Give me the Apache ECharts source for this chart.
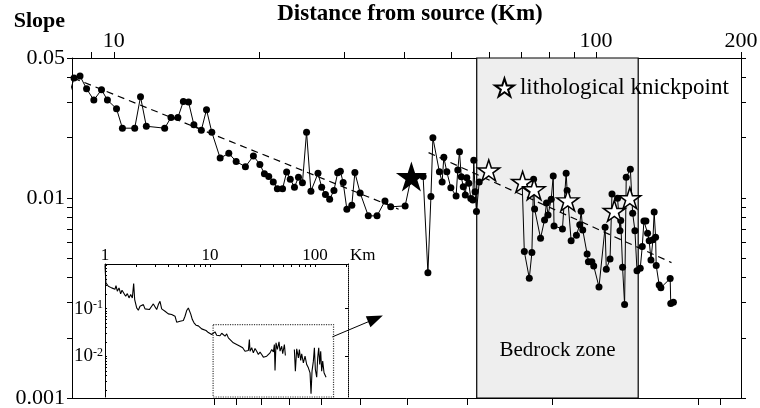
<!DOCTYPE html>
<html>
<head>
<meta charset="utf-8">
<script src="https://cdn.jsdelivr.net/npm/echarts@6/dist/echarts.min.js"></script>
<style>
  html, body { margin: 0; padding: 0; background: #fff; }
  #chart { width: 760px; height: 408px; }
</style>
</head>
<body>
<div id="chart"></div>
<script>
// main profile: distance from source (km) and channel slope
var mainDist = [8.03, 8.27, 8.51, 8.78, 9.09, 9.43, 9.70, 10.13, 10.42, 11.05, 11.36, 11.68, 12.75, 13.14, 13.58,
  13.94, 14.29, 14.66, 15.19, 15.57, 15.97, 16.62, 17.32, 17.94, 18.75, 19.48, 20.09, 20.53, 20.96, 21.42, 21.84,
  22.39, 22.83, 23.23, 23.70, 24.16, 24.62, 25.11, 25.64, 26.52, 26.99, 27.48, 28.04, 28.62, 29.13, 29.51, 29.91,
  30.44, 31.17, 31.63, 32.43, 33.72, 35.16, 36.52, 37.53, 40.21, 41.43, 43.82, 44.83, 45.48, 45.91, 47.36, 47.98,
  48.37, 49.07, 50.02, 51.29, 51.71, 52.13, 52.58, 53.08, 53.6, 53.98, 54.5, 55.02, 55.55, 55.81, 56.16, 56.53,
  57.28, 63, 70.31, 71.05, 72.76, 73.67, 74.26, 74.62, 76.78, 78.26, 79.0, 79.57, 80.79, 81.57, 81.88, 85.24,
  86.76, 87.17, 88.85, 91.13, 92.58, 93.2, 93.91, 95.9, 96.5, 98.1, 98.97, 101.5, 104.5, 105.1, 107.0, 108.0,
  110.9, 112.2, 112.6, 113.6, 114.7, 115.6, 117.9, 119.2, 120.5, 121.7, 123.6, 124.8, 125.8, 127.0, 128.0, 129.0,
  130.1, 131.3, 132.1, 133.0, 133.4, 135.3, 136.4, 142.6, 143.0, 144.8];
var mainSlope = [0.0309, 0.0397, 0.0406, 0.0351, 0.0308, 0.0347, 0.0308, 0.0279, 0.0223, 0.0223, 0.0320, 0.0228,
  0.0223, 0.0252, 0.0252, 0.0303, 0.0301, 0.0232, 0.0218, 0.0276, 0.0213, 0.0158, 0.0167, 0.0152, 0.0143, 0.0162,
  0.0147, 0.0132, 0.0128, 0.0120, 0.0111, 0.0111, 0.01346, 0.0124, 0.01131, 0.01269, 0.01189, 0.0213, 0.0108,
  0.01326, 0.01131, 0.01041, 0.00985, 0.0109, 0.01334, 0.0136, 0.01192, 0.00878, 0.00919, 0.01338, 0.01059,
  0.00813, 0.00813, 0.00966, 0.00902, 0.00912, 0.0128, 0.01278, 0.00423, 0.01015, 0.01995, 0.01349, 0.01202,
  0.01594, 0.01349, 0.01122, 0.01023, 0.0138, 0.01698, 0.01274, 0.01135, 0.01035, 0.01259, 0.01182, 0.00994,
  0.00977, 0.0154, 0.01072, 0.00854, 0.01202, null, 0.01202, 0.00539, 0.00397, 0.00533, 0.0124, 0.00881, 0.00629,
  0.00776, 0.00944, 0.00822, 0.00985, 0.01288, 0.00724, 0.007, 0.01329, 0.01088, 0.00611, 0.00651, 0.00735,
  0.00858, 0.00692, 0.00525, 0.0048, 0.0048, 0.00457, 0.00359, 0.00714, 0.0044, 0.00495, 0.01047, 0.00997,
  0.00686, 0.0077, 0.0045, 0.00293, 0.01269, 0.01391, 0.00839, 0.00686, 0.00433, 0.00445, 0.00571, 0.00767,
  0.00767, 0.00666, 0.00611, 0.0049, 0.00617, 0.00851, 0.00636, 0.00459, 0.00367, 0.00356, 0.00395, 0.00297,
  0.00301];

// knickpoints
var knickDist = [59.95, 70.47, 74.44, 87.44, 109.2, 117.6];
var knickSlope = [0.01372, 0.01202, 0.01105, 0.00972, 0.00861, 0.00997];
var bigStarDist = [41.43];
var bigStarSlope = [0.0128];

// dashed trends
var trend1Dist = [8.24, 38.98];
var trend1Slope = [0.0397, 0.00878];
var trend2Dist = [44.97, 143.5];
var trend2Slope = [0.01684, 0.00475];

var bedrockZone = [56.6, 122.4];
var arrowDist = [28.4, 34.9];
var arrowSlope = [0.00202, 0.00249];

// inset: whole profile
var insetDist = [1.0, 1.02, 1.076, 1.116, 1.157, 1.20, 1.245, 1.273, 1.31, 1.36, 1.41, 1.452, 1.517, 1.573, 1.632,
  1.693, 1.756, 1.821, 1.875, 1.917, 2.003, 2.077, 2.154, 2.234, 2.318, 2.404, 2.494, 2.644, 2.783, 2.886, 2.994,
  3.105, 3.22, 3.34, 3.465, 3.594, 3.728, 3.867, 4.01, 4.16, 4.315, 4.475, 4.642, 4.814, 5.18, 5.572, 5.779, 5.995,
  6.218, 6.356, 6.545, 6.788, 7.04, 7.356, 7.743, 8.03, 8.327, 8.639, 9.16, 9.64, 10.0, 10.37, 10.76, 11.16, 11.57,
  12.0, 12.45, 12.92, 13.4, 13.9, 14.41, 14.95, 15.5, 16.68, 17.95, 19.31, 20.47, 21.54, 22.35, 23.18, 23.7, 24.04,
  24.94, 25.86, 26.83, 27.83, 28.86, 29.94, 31.05, 32.2, 34.64, 37.28, 38.67, 40.11, 41.0, 41.59, 42.52, 43.78,
  45.4, 46.42, 48.14, 49.22, 51.05, 52.18, 58, 63.56, 64.97, 66.9, 69.4, 70.93, 73.03, 74.65, 77.43, 80.31, 83.3,
  86.4, 89.6, 91.6, 93.6, 96.4, 98.6, 100.7, 103.7, 106.0, 108.4, 110.8, 113.2, 115.7, 118.3, 121.8, 125.4, 127.3];
var insetSlope = [0.8, 0.343, 0.292, 0.306, 0.270, 0.287, 0.253, 0.301, 0.230, 0.270, 0.202, 0.241, 0.222, 0.181,
  0.205, 0.167, 0.196, 0.167, 0.332, 0.154, 0.103, 0.0923, 0.112, 0.1066, 0.121, 0.0984, 0.0908, 0.0953, 0.112,
  0.125, 0.131, 0.0953, 0.121, 0.142, 0.0984, 0.1066, 0.088, 0.0953, 0.0774, 0.0812, 0.075, 0.0726, 0.0692,
  0.0519, 0.0545, 0.0562, 0.0692, 0.0908, 0.103, 0.1, 0.0774, 0.059, 0.0503, 0.045, 0.0435, 0.0408, 0.0377,
  0.0348, 0.0348, 0.0316, 0.0297, 0.0287, 0.0261, 0.0327, 0.0278, 0.0301, 0.027, 0.0306, 0.0327, 0.0265, 0.0297,
  0.0245, 0.0233, 0.0193, 0.0178, 0.0164, 0.0152, 0.0129, 0.014, 0.0133, 0.0226, 0.0129, 0.0152, 0.0119, 0.0147,
  0.0129, 0.011, 0.0123, 0.011, 0.00969, 0.01016, 0.0119, 0.014, 0.0125, 0.0178, 0.0051, 0.0193, 0.014, 0.0202,
  0.0129, 0.0164, 0.0114, 0.0178, 0.0105, null, 0.014, 0.00494, 0.0145, 0.00938, 0.014, 0.00826, 0.0114, 0.00738,
  0.01016, 0.00681, 0.00581, 0.00457, 0.00167, 0.00494, 0.008, 0.0152, 0.00536, 0.00371, 0.00938, 0.0152,
  0.00681, 0.0129, 0.00494, 0.008, 0.00457, 0.00494, 0.00371];
var insetBox = [10.7, 150, 0.0464];

// axis ticks and labels
var topTicks = [9, 10, 20, 30, 40, 50, 60, 70, 80, 90, 100, 200];
var topLabels = [10, 100, 200];
var bottomTicks = [0.9, 1, 2, 3, 4, 5, 6, 7, 8, 9, 10];
var slopeTicks = [0.001, 0.002, 0.003, 0.004, 0.005, 0.006, 0.007, 0.008, 0.009, 0.01, 0.02, 0.03, 0.04, 0.05];
var slopeLabels = [0.001, 0.01, 0.05];
var insetXTicks = [1, 2, 3, 4, 5, 6, 7, 8, 9, 10, 20, 30, 40, 50, 60, 70, 80, 90, 100, 200];
var insetXLabels = [1, 10, 100];
var insetYTicks = [0.002, 0.003, 0.004, 0.005, 0.006, 0.007, 0.008, 0.009, 0.01, 0.02, 0.03, 0.04, 0.05, 0.06,
  0.07, 0.08, 0.09, 0.1, 0.2, 0.3, 0.4, 0.5, 0.6, 0.7, 0.8];
var insetYLabels = [0.01, 0.1];

function pairs(xs, ys) {
  return xs.map(function (x, i) {
    return [x, ys[i] == null ? '-' : ys[i]];
  });
}

var serif = "'Liberation Serif', 'Times New Roman', serif";
var starPath = 'path://M50 0 L61.23 34.55 L97.55 34.55 L68.17 55.9 L79.39 90.45 L50 69.1 L20.61 90.45 L31.83 55.9 L2.45 34.55 L38.77 34.55 Z';
var black = { color: '#000', width: 1 };

var myChart = echarts.init(document.getElementById('chart'));

myChart.setOption({
  animation: false,
  textStyle: { fontFamily: serif, color: '#000' },
  legend: {
    data: ['lithological knickpoint'],
    left: 489,
    top: 71,
    icon: starPath,
    itemWidth: 19,
    itemHeight: 18,
    selectedMode: false,
    textStyle: { fontFamily: serif, fontSize: 23, color: '#000', padding: [0, 0, 0, 1] }
  },
  grid: [
    { left: 72, top: 58, right: 19, bottom: 10, outerBoundsMode: 'none' },
    { left: 105, top: 264, width: 243, height: 133, show: true, backgroundColor: '#fff', borderWidth: 0, outerBoundsMode: 'none' }
  ],
  xAxis: [
    {
      type: 'log', gridIndex: 0, position: 'top', min: 8.19, max: 200,
      name: 'Distance from source (Km)', nameLocation: 'middle', nameGap: 32,
      nameTextStyle: { fontFamily: serif, fontSize: 23, fontWeight: 'bold', color: '#000', padding: [0, 0, 0, 7] },
      axisLine: { onZero: false, lineStyle: black },
      axisTick: { length: 6, customValues: topTicks, lineStyle: black },
      axisLabel: { customValues: topLabels, margin: 6, fontSize: 22, fontFamily: serif, color: '#000',
        formatter: function (v) { return String(v); } },
      splitLine: { show: false }
    },
    {
      type: 'log', gridIndex: 0, position: 'bottom', inverse: true, min: 0.815, max: 19.7,
      axisLine: { onZero: false, lineStyle: black },
      axisTick: { length: 7, customValues: bottomTicks, lineStyle: black },
      axisLabel: { show: false },
      splitLine: { show: false }
    },
    {
      type: 'log', gridIndex: 1, position: 'top', min: 1, max: 206,
      name: 'Km', nameLocation: 'end', nameGap: 2,
      nameTextStyle: { fontFamily: serif, fontSize: 17, color: '#000', verticalAlign: 'bottom', align: 'left' },
      axisLine: { onZero: false, lineStyle: black },
      axisTick: { inside: true, length: 3, customValues: insetXTicks, lineStyle: black },
      axisLabel: { customValues: insetXLabels, margin: 0, fontSize: 17, fontFamily: serif, color: '#000',
        formatter: function (v) { return String(v); } },
      splitLine: { show: false }
    }
  ],
  yAxis: [
    {
      type: 'log', gridIndex: 0, position: 'left', min: 0.001, max: 0.05,
      name: 'Slope', nameLocation: 'end', nameGap: 26,
      nameTextStyle: { fontFamily: serif, fontSize: 22, fontWeight: 'bold', color: '#000', align: 'right', padding: [0, 7, 0, 0] },
      axisLine: { onZero: false, lineStyle: black },
      axisTick: { length: 5, customValues: slopeTicks, lineStyle: black },
      axisLabel: { customValues: slopeLabels, margin: 7, fontSize: 22, fontFamily: serif, color: '#000',
        formatter: function (v) { return String(v); } },
      splitLine: { show: false }
    },
    {
      type: 'log', gridIndex: 0, position: 'right', min: 0.001, max: 0.05,
      axisLine: { onZero: false, lineStyle: black },
      axisTick: { length: 5, customValues: slopeTicks, lineStyle: black },
      axisLabel: { show: false },
      splitLine: { show: false }
    },
    {
      type: 'log', gridIndex: 1, position: 'left', min: 0.00143, max: 0.85,
      axisLine: { onZero: false, lineStyle: black },
      axisTick: { inside: true, length: 2, customValues: insetYTicks, lineStyle: black },
      axisLabel: {
        customValues: insetYLabels, margin: 2, color: '#000',
        formatter: function (v) {
          return '{b|10}{s|' + Math.round(Math.log10(v)) + '}';
        },
        rich: {
          b: { fontFamily: serif, fontSize: 19, color: '#000' },
          s: { fontFamily: serif, fontSize: 12, color: '#000', verticalAlign: 'top' }
        }
      },
      splitLine: { show: false }
    },
    {
      type: 'log', gridIndex: 1, position: 'right', min: 0.00143, max: 0.85,
      axisLine: { onZero: false, lineStyle: { color: '#000', width: 1, type: 'dotted' } },
      axisTick: { inside: true, length: 3, customValues: insetYLabels, lineStyle: black },
      axisLabel: { show: false },
      splitLine: { show: false }
    }
  ],
  series: [
    {
      name: 'bedrock',
      type: 'line',
      xAxisIndex: 0, yAxisIndex: 0,
      data: [],
      z: 1,
      silent: true,
      markArea: {
        silent: true,
        itemStyle: { color: '#eeeeee', borderColor: '#000', borderWidth: 1.2 },
        label: { show: true, position: 'insideBottom', distance: 38, fontFamily: serif, fontSize: 21, color: '#000' },
        data: [[{ name: 'Bedrock zone', xAxis: bedrockZone[0] }, { xAxis: bedrockZone[1] }]]
      }
    },
    {
      name: 'slope',
      type: 'line',
      xAxisIndex: 0, yAxisIndex: 0,
      data: pairs(mainDist, mainSlope),
      symbol: 'circle',
      symbolSize: 7,
      itemStyle: { color: '#000' },
      lineStyle: { color: '#000', width: 1 },
      z: 3,
      markLine: {
        silent: true,
        symbol: ['none', 'triangle'],
        symbolSize: [12, 16],
        label: { show: false },
        lineStyle: { color: '#000', width: 1, type: 'solid' },
        data: [[{ coord: [arrowDist[0], arrowSlope[0]] }, { coord: [arrowDist[1], arrowSlope[1]] }]]
      }
    },
    {
      name: 'trend upstream',
      type: 'line',
      xAxisIndex: 0, yAxisIndex: 0,
      data: pairs(trend1Dist, trend1Slope),
      showSymbol: false, symbol: 'none',
      lineStyle: { color: '#000', width: 1.2, type: [7, 5] },
      z: 4
    },
    {
      name: 'trend downstream',
      type: 'line',
      xAxisIndex: 0, yAxisIndex: 0,
      data: pairs(trend2Dist, trend2Slope),
      showSymbol: false, symbol: 'none',
      lineStyle: { color: '#000', width: 1.2, type: [7, 5] },
      z: 4
    },
    {
      name: 'lithological knickpoint',
      type: 'scatter',
      xAxisIndex: 0, yAxisIndex: 0,
      data: pairs(knickDist, knickSlope),
      symbol: starPath,
      symbolSize: [22, 21],
      itemStyle: { color: '#fff', borderColor: '#000', borderWidth: 1.5, opacity: 1 },
      z: 5
    },
    {
      name: 'main knickpoint',
      type: 'scatter',
      xAxisIndex: 0, yAxisIndex: 0,
      data: pairs(bigStarDist, bigStarSlope),
      symbol: starPath,
      symbolSize: [31, 30],
      itemStyle: { color: '#000', opacity: 1 },
      z: 5
    },
    {
      name: 'inset',
      type: 'line',
      xAxisIndex: 2, yAxisIndex: 2,
      data: pairs(insetDist, insetSlope),
      showSymbol: false, symbol: 'none',
      lineStyle: { color: '#000', width: 1.1 },
      z: 3,
      markArea: {
        silent: true,
        itemStyle: { color: 'rgba(0,0,0,0)', borderColor: '#444', borderWidth: 1.2, borderType: 'dotted' },
        data: [[{ xAxis: insetBox[0], yAxis: insetBox[2] }, { xAxis: insetBox[1], yAxis: 0.00143 }]]
      }
    }
  ]
});
</script>
</body>
</html>
